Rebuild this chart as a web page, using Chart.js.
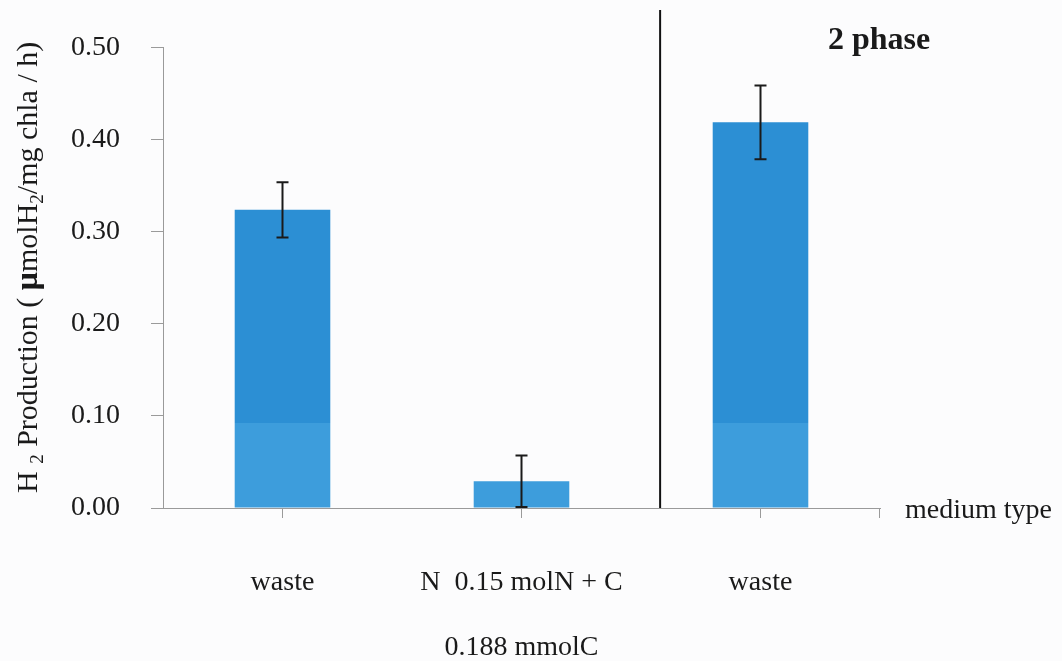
<!DOCTYPE html>
<html>
<head>
<meta charset="utf-8">
<script src="https://cdn.jsdelivr.net/npm/chart.js@4"></script>
<style>
    body { margin: 0; background: #fcfcfd; }
    #wrap { width: 1062px; height: 661px; }
</style>
</head>
<body>
<div id="wrap"><canvas id="h2Chart"></canvas></div>
<script>
// medium types (multi-line labels)
const categories = [['waste'], ['N  0.15 molN + C', '0.188 mmolC'], ['waste']];
// H2 production, umol H2 / mg chla / h
const h2Production = [0.324, 0.029, 0.419];
// +/- error
const h2Error = [0.030, 0.028, 0.040];
const yTicks = [0, 0.1, 0.2, 0.3, 0.4, 0.5];
// where the "2 phase" divider sits, in category units
const dividerPos = 1.58;

const serif = "'Liberation Serif', 'DejaVu Serif', serif";
const textColor = '#1a1a1a';
const axisColor = '#9a9a9a';

// bars are a bit lighter near the base in the original
function barFill(context) {
    const chart = context.chart;
    const area = chart.chartArea;
    if (!area) return '#2c8fd4';
    const y = chart.scales.y;
    const g = chart.ctx.createLinearGradient(0, area.bottom, 0, area.top);
    const split = (area.bottom - y.getPixelForValue(0.092)) / (area.bottom - area.top);
    g.addColorStop(0, '#3d9ddc');
    g.addColorStop(split, '#3d9ddc');
    g.addColorStop(split, '#2c8fd4');
    g.addColorStop(1, '#2c8fd4');
    return g;
}

// error bars drawn with the chart's own scales
const errorBars = {
    id: 'errorBars',
    afterDatasetsDraw(chart) {
        const ctx = chart.ctx;
        const x = chart.scales.x;
        const y = chart.scales.y;
        ctx.save();
        ctx.strokeStyle = '#1a1a1a';
        ctx.lineWidth = 2;
        for (let i = 0; i < h2Production.length; i++) {
            const px = x.getPixelForValue(i);
            const top = y.getPixelForValue(h2Production[i] + h2Error[i]);
            const bot = y.getPixelForValue(h2Production[i] - h2Error[i]);
            ctx.beginPath();
            ctx.moveTo(px, top);
            ctx.lineTo(px, bot);
            ctx.moveTo(px - 6, top);
            ctx.lineTo(px + 6, top);
            ctx.moveTo(px - 6, bot);
            ctx.lineTo(px + 6, bot);
            ctx.stroke();
        }
        ctx.restore();
    }
};

const extras = {
    id: 'extras',
    beforeDraw(chart) {
        const ctx = chart.ctx;
        ctx.save();
        ctx.fillStyle = '#fcfcfd';
        ctx.fillRect(0, 0, chart.width, chart.height);
        ctx.restore();
    },
    afterDraw(chart) {
        const ctx = chart.ctx;
        const area = chart.chartArea;
        const x = chart.scales.x;
        ctx.save();

        // divider line
        const dx = x.getPixelForValue(dividerPos);
        ctx.strokeStyle = '#111';
        ctx.lineWidth = 2;
        ctx.beginPath();
        ctx.moveTo(dx, 10);
        ctx.lineTo(dx, area.bottom);
        ctx.stroke();

        // closing tick at right end of x axis
        ctx.strokeStyle = axisColor;
        ctx.lineWidth = 1;
        ctx.beginPath();
        ctx.moveTo(area.right - 0.5, area.bottom);
        ctx.lineTo(area.right - 0.5, area.bottom + 10);
        ctx.stroke();

        ctx.fillStyle = textColor;
        ctx.textBaseline = 'alphabetic';
        ctx.textAlign = 'left';
        ctx.font = 'bold 32px ' + serif;
        ctx.fillText('2 phase', 828, 49);

        ctx.font = '28px ' + serif;
        ctx.textBaseline = 'middle';
        ctx.fillText('medium type', area.right + 25, 511);

        // y axis title with subscripts
        const parts = [
            ['H', '30px', 0],
            [' ', '30px', 0],
            ['2', '19px', 6],
            [' Production ( ', '30px', 0],
            ['\u03bc', 'bold 32px', 0],
            ['molH', '30px', 0],
            ['2', '19px', 6],
            ['/mg chla / h)', '30px', 0]
        ];
        ctx.translate(37, 493);
        ctx.rotate(-Math.PI / 2);
        ctx.textBaseline = 'alphabetic';
        let cx = 0;
        parts.forEach(p => {
            ctx.font = p[1] + ' ' + serif;
            ctx.fillText(p[0], cx, p[2]);
            cx += ctx.measureText(p[0]).width;
        });
        ctx.restore();
    }
};

const chart = new Chart(document.getElementById('h2Chart'), {
    type: 'bar',
    data: {
        labels: categories,
        datasets: [{
            label: 'H2 Production',
            data: h2Production,
            backgroundColor: barFill,
            barPercentage: 0.4,
            categoryPercentage: 1.0
        }]
    },
    options: {
        responsive: true,
        maintainAspectRatio: false,
        animation: false,
        layout: {
            padding: { top: 47, right: 182, left: 0, bottom: 0 }
        },
        plugins: {
            legend: { display: false },
            tooltip: { enabled: false }
        },
        scales: {
            x: {
                grid: {
                    display: true,
                    drawOnChartArea: false,
                    offset: false,
                    tickLength: 10,
                    color: axisColor
                },
                border: { display: true, color: axisColor },
                ticks: {
                    color: textColor,
                    font: { family: serif, size: 28, lineHeight: 2.32 },
                    padding: 32,
                    maxRotation: 0,
                    autoSkip: false
                },
                afterFit(scale) {
                    scale.height = 153;
                }
            },
            y: {
                min: 0,
                max: 0.5,
                afterBuildTicks(scale) {
                    scale.ticks = yTicks.map(v => ({ value: v }));
                },
                grid: {
                    display: true,
                    drawOnChartArea: false,
                    tickLength: 12,
                    color: axisColor
                },
                border: { display: true, color: axisColor },
                ticks: {
                    color: textColor,
                    font: { family: serif, size: 28 },
                    padding: 31,
                    callback: v => v.toFixed(2)
                },
                afterFit(scale) {
                    scale.width = 163;
                }
            }
        }
    },
    plugins: [errorBars, extras]
});
</script>
</body>
</html>
